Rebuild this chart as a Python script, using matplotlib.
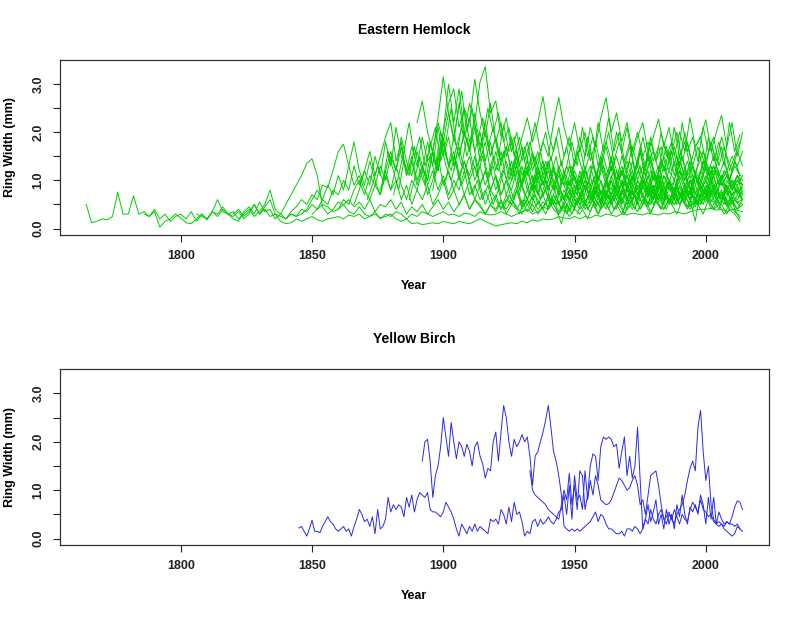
"""Tree-ring widths: Eastern Hemlock and Yellow Birch (R base-graphics look)."""

import matplotlib
matplotlib.use("Agg")
import matplotlib.pyplot as plt
import numpy as np

plt.rcParams["font.family"] = ["Liberation Sans", "DejaVu Sans"]

HEMLOCK_COLOR = "#00cd00"
BIRCH_COLOR = "#2a2ae6"

# ── Eastern Hemlock: one value every 2 years from each start year ────────────
hemlock_step = 2
hemlock_start = [1764, 1786, 1806, 1820, 1840, 1850, 1860, 1866, 1876, 1890, 1894,
                 1896, 1904, 1906, 1898, 1926, 1934, 1948, 1956, 1960, 1966, 1976,
                 1871, 1881, 1901, 1913, 1929, 1943, 1951, 1969, 1887]

eh01 = [0.5, 0.12, 0.15, 0.2, 0.18, 0.25, 0.75, 0.3, 0.3, 0.68,
        0.3, 0.35, 0.25, 0.4, 0.2, 0.3, 0.15, 0.25, 0.3, 0.2,
        0.35, 0.15, 0.3, 0.2, 0.35, 0.6, 0.35, 0.3, 0.25, 0.35,
        0.2, 0.3, 0.5, 0.3, 0.4, 0.25, 0.3, 0.15, 0.1, 0.12,
        0.2, 0.15, 0.2, 0.25, 0.18, 0.15, 0.2, 0.22, 0.25, 0.2,
        0.28, 0.25, 0.3, 0.2, 0.25, 0.3, 0.22, 0.25, 0.3, 0.2,
        0.15, 0.2, 0.1, 0.12, 0.08, 0.1, 0.12, 0.1, 0.15, 0.12,
        0.1, 0.15, 0.12, 0.1, 0.15, 0.2, 0.15, 0.1, 0.05, 0.08,
        0.1, 0.12, 0.1, 0.15, 0.12, 0.18, 0.15, 0.2, 0.18, 0.2,
        0.25, 0.22, 0.2, 0.25, 0.2, 0.25, 0.22, 0.28, 0.25, 0.3,
        0.28, 0.25, 0.3, 0.28, 0.32, 0.3, 0.28, 0.32, 0.3, 0.28,
        0.32, 0.3, 0.35, 0.33, 0.3, 0.35, 0.38, 0.4, 0.4, 0.42,
        0.38, 0.4, 0.35, 0.4, 0.38, 0.35]
eh02 = [0.3, 0.25, 0.35, 0.03, 0.15, 0.2, 0.3, 0.22, 0.12, 0.1,
        0.2, 0.3, 0.18, 0.35, 0.25, 0.4, 0.3, 0.2, 0.15, 0.35,
        0.45, 0.3, 0.55, 0.35, 0.4, 0.2, 0.3, 0.5, 0.7, 0.9,
        1.1, 1.35, 1.45, 1.1, 0.45, 0.3, 0.4, 0.55, 0.5, 0.6,
        0.45, 0.55, 0.4, 0.6, 0.35, 0.5, 0.45, 0.6, 0.4, 0.55,
        0.3, 0.45, 0.35, 0.5, 0.3, 0.45, 0.6, 0.4, 0.55, 0.35,
        0.5, 0.7, 0.4, 0.6, 0.45, 0.3, 0.5, 0.35, 0.55, 0.4,
        0.6, 0.45, 0.3, 0.5, 0.65, 0.4, 0.55, 0.45, 0.7, 0.5,
        0.35, 0.6, 0.45, 0.7, 0.5, 0.8, 0.6, 0.45, 0.7, 0.55,
        0.8, 0.6, 0.5, 0.75, 0.6, 0.9, 0.65, 0.8, 0.55, 0.7,
        0.9, 0.6, 0.75, 0.55, 0.8, 0.6, 0.9, 0.7, 0.85, 0.6,
        0.75, 0.5, 0.65, 0.55, 0.5]
eh03 = [0.3, 0.25, 0.2, 0.35, 0.3, 0.45, 0.3, 0.35, 0.2, 0.3,
        0.4, 0.25, 0.35, 0.5, 0.8, 0.4, 0.3, 0.2, 0.35, 0.45,
        0.6, 0.5, 0.7, 0.6, 0.9, 0.85, 1.2, 1.6, 1.75, 1.3,
        0.9, 1.1, 0.8, 0.6, 0.9, 0.7, 1.2, 0.8, 1.0, 0.6,
        0.9, 0.5, 0.8, 0.6, 0.9, 0.5, 0.7, 1.0, 0.6, 0.8,
        0.5, 0.7, 0.4, 0.6, 0.5, 0.3, 0.5, 0.4, 0.6, 0.3,
        0.5, 0.4, 0.6, 0.35, 0.5, 0.3, 0.45, 0.6, 0.4, 0.3,
        0.5, 0.35, 0.6, 0.4, 0.55, 0.7, 0.45, 0.6, 0.8, 0.5,
        0.7, 0.55, 0.9, 0.6, 0.75, 0.5, 0.8, 0.6, 1.0, 0.7,
        0.55, 0.8, 0.6, 0.9, 0.7, 1.1, 0.8, 0.6, 0.9, 0.7,
        1.0, 0.75, 0.6, 0.85, 0.7]
eh04 = [0.3, 0.4, 0.25, 0.35, 0.5, 0.3, 0.45, 0.6, 0.3, 0.25,
        0.2, 0.3, 0.25, 0.3, 0.4, 0.6, 0.8, 0.6, 0.9, 0.7,
        1.1, 0.8, 1.3, 1.8, 1.2, 0.9, 1.4, 1.0, 0.7, 1.1,
        0.8, 1.3, 0.9, 0.6, 1.0, 0.8, 1.2, 0.7, 1.0, 1.5,
        0.9, 1.2, 0.8, 1.1, 0.7, 1.0, 0.6, 0.9, 0.5, 0.8,
        0.6, 0.4, 0.7, 0.5, 0.8, 0.4, 0.6, 0.9, 0.5, 0.7,
        0.4, 0.6, 0.35, 0.55, 0.8, 0.5, 0.7, 0.4, 0.6, 0.9,
        0.55, 0.75, 0.5, 0.7, 1.0, 0.6, 0.8, 0.55, 0.9, 0.65,
        1.1, 0.7, 0.5, 0.85, 0.6, 0.9, 0.7, 1.0, 0.75, 0.55,
        0.9, 0.65, 0.8, 0.6, 0.9, 0.7, 0.8, 0.6]
eh05 = [0.2, 0.3, 0.25, 0.4, 0.35, 0.5, 0.4, 0.6, 0.5, 0.8,
        0.7, 1.0, 0.8, 1.3, 0.9, 1.2, 1.6, 1.1, 1.5, 1.9,
        2.2, 1.4, 1.8, 1.1, 1.5, 1.0, 1.3, 0.9, 1.2, 0.8,
        1.1, 0.7, 1.0, 0.8, 1.2, 0.7, 0.9, 0.6, 0.8, 0.5,
        0.7, 0.4, 0.6, 0.5, 0.8, 0.45, 0.6, 0.35, 0.55, 0.4,
        0.7, 0.5, 0.3, 0.45, 0.25, 0.4, 0.3, 0.5, 0.35, 0.6,
        0.4, 0.55, 0.3, 0.45, 0.6, 0.4, 0.5, 0.35, 0.6, 0.45,
        0.7, 0.5, 0.4, 0.6, 0.5, 0.75, 0.55, 0.4, 0.6, 0.5,
        0.8, 0.6, 0.5, 0.7, 0.45, 0.6, 0.4, 0.5]
eh06 = [0.3, 0.4, 0.5, 0.45, 0.35, 0.4, 0.5, 0.35, 0.3, 0.45,
        0.3, 0.25, 0.35, 0.2, 0.3, 0.25, 0.35, 0.3, 0.2, 0.3,
        0.25, 0.35, 0.3, 0.25, 0.3, 0.35, 0.28, 0.3, 0.25, 0.32,
        0.3, 0.25, 0.35, 0.3, 0.28, 0.3, 0.35, 0.3, 0.25, 0.3,
        0.35, 0.4, 0.3, 0.35, 0.45, 0.4, 0.55, 0.5, 0.7, 0.6,
        0.8, 0.6, 0.9, 0.7, 0.5, 0.8, 0.6, 1.0, 0.7, 0.9,
        0.6, 0.8, 0.5, 0.7, 0.9, 0.6, 0.8, 0.55, 0.7, 0.5,
        0.65, 0.8, 0.6, 0.45, 0.7, 0.55, 0.8, 0.6, 0.7, 0.5,
        0.65, 0.55, 0.6]
eh07 = [0.4, 0.6, 0.5, 0.8, 1.0, 0.7, 1.1, 0.9, 1.3, 1.0,
        1.5, 1.2, 1.7, 1.1, 1.4, 0.9, 1.3, 1.0, 1.6, 1.2,
        1.9, 1.3, 1.6, 1.0, 1.4, 1.1, 1.5, 0.9, 1.2, 0.8,
        1.1, 0.7, 1.0, 0.6, 0.9, 0.5, 0.8, 0.6, 1.0, 0.7,
        0.9, 0.5, 0.8, 0.6, 0.4, 0.7, 0.5, 0.9, 0.6, 0.8,
        0.5, 0.7, 1.0, 0.6, 0.8, 0.55, 0.9, 0.7, 1.1, 0.8,
        0.6, 0.9, 0.7, 1.0, 0.65, 0.85, 0.6, 1.0, 0.75, 0.9,
        0.7, 1.1, 0.8, 0.95, 0.7, 0.9, 0.75, 0.85]
eh08 = [0.5, 0.8, 1.2, 0.9, 1.5, 1.1, 1.8, 1.3, 2.1, 1.5,
        1.2, 1.7, 1.3, 1.9, 1.4, 1.6, 1.2, 1.8, 1.3, 1.5,
        1.1, 1.4, 1.0, 1.3, 0.9, 1.2, 0.8, 1.1, 0.7, 1.0,
        0.8, 1.2, 0.9, 0.6, 1.0, 0.7, 1.1, 0.8, 1.3, 0.9,
        0.6, 1.0, 0.7, 1.2, 0.8, 1.1, 0.7, 1.3, 0.9, 1.5,
        1.0, 1.2, 0.8, 1.4, 1.0, 1.3, 0.9, 1.2, 0.8, 1.1,
        0.9, 1.4, 1.0, 1.2, 0.8, 1.1, 0.9, 1.3, 1.0, 1.2,
        0.9, 1.1, 0.8, 1.0, 0.9]
eh09 = [0.8, 1.2, 1.6, 1.2, 1.9, 1.4, 1.1, 1.6, 1.2, 1.8,
        1.3, 2.1, 1.5, 1.9, 1.3, 1.7, 1.2, 1.5, 1.0, 1.3,
        0.9, 1.2, 0.8, 1.1, 0.7, 1.0, 1.3, 0.9, 1.2, 1.6,
        1.1, 1.4, 1.0, 1.3, 0.8, 1.2, 0.9, 1.1, 0.7, 1.0,
        1.3, 0.9, 1.5, 1.1, 1.4, 1.0, 1.3, 0.9, 1.2, 0.8,
        1.1, 1.5, 1.0, 1.3, 0.9, 1.2, 1.0, 1.4, 1.1, 0.8,
        1.2, 1.0, 1.4, 1.1, 1.3, 1.0, 1.2, 0.9, 1.1, 1.0]
eh10 = [2.2, 2.65, 2.0, 1.6, 2.2, 1.8, 2.4, 1.9, 1.5, 2.0,
        1.6, 2.1, 1.4, 1.8, 1.2, 1.6, 1.1, 1.4, 1.0, 1.3,
        0.9, 1.2, 0.8, 1.1, 0.7, 1.0, 0.8, 1.2, 0.9, 0.6,
        0.9, 0.7, 1.0, 0.6, 0.8, 0.5, 0.9, 0.7, 1.0, 0.6,
        0.8, 0.55, 0.9, 0.7, 0.5, 0.8, 0.6, 0.9, 0.55, 0.7,
        0.5, 0.8, 0.6, 0.9, 0.65, 0.8, 0.55, 0.75, 0.6, 0.8,
        0.5, 0.7, 0.6]
eh11 = [1.0, 1.6, 2.3, 3.15, 2.4, 1.8, 2.6, 1.9, 2.3, 1.6,
        2.0, 1.4, 1.8, 1.2, 1.6, 1.0, 1.4, 0.9, 1.3, 0.8,
        1.1, 0.7, 1.0, 0.6, 0.9, 0.5, 0.8, 0.6, 0.4, 0.7,
        0.5, 0.8, 0.45, 0.6, 0.4, 0.7, 0.5, 0.3, 0.6, 0.4,
        0.7, 0.5, 0.8, 0.5, 0.7, 0.4, 0.6, 0.8, 0.5, 0.7,
        0.45, 0.65, 0.5, 0.7, 0.4, 0.6, 0.5, 0.3, 0.55, 0.4,
        0.6]
eh12 = [0.8, 1.4, 2.0, 3.0, 2.2, 2.9, 2.0, 1.6, 2.4, 1.7,
        2.2, 1.5, 1.9, 1.3, 1.7, 1.1, 1.5, 0.9, 1.3, 0.8,
        1.2, 0.9, 1.4, 1.0, 0.7, 1.1, 0.8, 1.2, 0.9, 1.3,
        0.8, 1.1, 0.7, 1.0, 0.6, 0.9, 0.7, 1.1, 0.8, 0.6,
        1.0, 0.7, 0.9, 0.6, 1.1, 0.8, 1.0, 0.7, 0.9, 0.6,
        1.1, 0.8, 1.0, 0.7, 0.9, 0.6, 0.8, 0.7, 0.9, 0.6]
eh13 = [1.2, 1.8, 2.5, 2.2, 3.1, 2.4, 1.9, 2.6, 1.8, 2.2,
        1.5, 1.9, 1.3, 1.7, 1.1, 1.5, 1.0, 1.3, 0.8, 1.2,
        0.9, 0.6, 1.0, 0.7, 1.1, 0.8, 0.5, 0.9, 0.6, 1.0,
        0.7, 0.9, 0.5, 0.8, 0.6, 1.0, 0.7, 0.5, 0.9, 0.6,
        0.8, 0.5, 0.7, 1.0, 0.6, 0.8, 0.5, 0.9, 0.7, 1.0,
        0.6, 0.8, 0.5, 0.7, 0.6, 0.8]
eh14 = [1.5, 2.0, 2.6, 2.2, 3.05, 3.36, 2.4, 2.65, 1.9, 2.3,
        1.6, 2.0, 1.4, 1.8, 1.2, 1.6, 1.1, 1.4, 0.9, 1.3,
        1.0, 0.7, 1.1, 0.8, 1.2, 0.9, 0.6, 1.0, 0.7, 1.1,
        0.8, 1.2, 0.9, 0.7, 1.0, 0.8, 1.1, 0.7, 0.9, 0.6,
        1.0, 0.8, 1.2, 0.9, 0.7, 1.1, 0.8, 1.0, 0.7, 0.9,
        0.6, 1.0, 0.8, 1.1, 0.9]
eh15 = [1.2, 2.0, 2.6, 2.9, 2.1, 2.5, 1.8, 2.2, 1.6, 2.0,
        1.5, 1.9, 1.4, 1.7, 1.2, 1.6, 1.1, 1.4, 1.0, 1.3,
        0.9, 1.2, 0.8, 1.1, 0.9, 1.3, 1.0, 0.8, 1.2, 0.9,
        1.1, 0.7, 1.0, 0.8, 1.2, 0.9, 1.1, 0.8, 1.2, 1.0,
        0.7, 1.1, 0.9, 1.3, 1.0, 0.8, 1.2, 1.0, 1.4, 1.1,
        0.9, 1.3, 1.0, 1.2, 0.9, 1.1, 0.8, 1.0, 0.9]
eh16 = [1.0, 1.5, 1.9, 2.3, 1.8, 2.2, 2.74, 2.0, 1.6, 2.1,
        1.5, 1.9, 1.3, 1.7, 1.2, 1.6, 1.1, 1.4, 1.0, 1.3,
        0.9, 1.2, 0.8, 1.1, 0.7, 1.0, 0.8, 1.2, 0.9, 0.6,
        1.0, 0.7, 1.1, 0.8, 1.0, 0.6, 0.9, 0.7, 1.0, 0.8,
        0.6, 0.9, 0.7, 0.8, 0.6]
eh17 = [0.8, 1.3, 1.8, 1.5, 2.2, 2.72, 2.1, 1.7, 2.2, 1.6,
        2.0, 1.4, 1.8, 1.3, 1.7, 1.2, 1.5, 1.1, 1.4, 1.0,
        1.3, 0.9, 1.2, 0.8, 1.1, 0.7, 1.0, 0.8, 1.2, 0.9,
        1.1, 0.7, 1.0, 0.8, 1.2, 0.9, 1.1, 0.8, 1.0, 0.7,
        0.9]
eh18 = [0.9, 1.4, 1.9, 1.5, 2.1, 1.7, 2.3, 2.72, 2.0, 2.4,
        1.8, 2.2, 1.6, 2.0, 1.5, 1.8, 1.4, 1.7, 1.2, 1.6,
        1.1, 1.5, 1.0, 1.3, 0.9, 1.2, 1.0, 1.3, 0.9, 1.1,
        0.8, 1.0, 0.9, 1.1]
eh19 = [0.6, 1.0, 1.4, 1.8, 1.4, 2.0, 1.6, 2.1, 1.5, 1.9,
        2.2, 1.6, 1.9, 2.27, 1.7, 2.1, 1.5, 2.0, 1.6, 2.3,
        1.7, 1.9, 1.4, 1.8, 1.3, 1.7, 1.2, 1.5, 1.3, 1.6]
eh20 = [0.5, 0.9, 1.3, 1.0, 1.5, 1.2, 1.7, 1.3, 1.9, 1.4,
        1.6, 1.2, 1.8, 1.4, 2.1, 1.5, 1.8, 1.3, 1.7, 1.9,
        2.26, 1.6, 2.0, 2.35, 1.7, 2.2, 1.5, 2.0]
eh21 = [0.4, 0.8, 1.2, 0.9, 1.4, 1.1, 1.6, 1.2, 1.0, 1.5,
        1.2, 1.7, 1.3, 2.0, 1.5, 1.1, 1.6, 1.3, 1.8, 1.4,
        1.9, 1.5, 1.2, 1.6, 1.3]
eh22 = [0.5, 0.9, 0.7, 1.1, 0.8, 1.0, 0.7, 1.2, 0.9, 0.6,
        0.15, 0.8, 1.1, 0.9, 1.3, 1.0, 1.2, 0.8, 1.1, 0.7]
eh23 = [0.6, 0.9, 1.3, 1.0, 1.6, 1.2, 0.8, 1.4, 1.1, 1.7,
        1.2, 0.9, 1.5, 1.1, 1.8, 1.3, 1.0, 1.4, 0.9, 1.2,
        0.7, 1.0, 0.6, 0.9, 0.5, 0.8, 0.4, 0.7, 0.5, 0.3,
        0.6, 0.4, 0.7, 0.5, 0.3, 0.6, 0.4, 0.1, 0.5, 0.3,
        0.6, 0.4, 0.2, 0.5, 0.3, 0.6, 0.4, 0.7, 0.5, 0.3,
        0.6, 0.4, 0.8, 0.5, 0.3, 0.6, 0.4, 0.7, 0.5, 0.8,
        0.6, 0.4, 0.7, 0.5, 0.9, 0.6, 0.4, 0.7, 0.5, 0.8,
        0.4, 0.2]
eh24 = [0.7, 1.1, 1.6, 2.2, 1.5, 1.9, 1.3, 1.7, 2.1, 1.4,
        1.8, 2.5, 1.7, 2.1, 1.5, 1.9, 1.3, 1.6, 1.1, 1.5,
        1.2, 1.6, 1.0, 1.4, 0.8, 1.2, 0.7, 1.1, 0.6, 1.0,
        0.5, 0.9, 0.6, 0.3, 0.7, 0.5, 0.8, 0.4, 0.6, 0.3,
        0.5, 0.7, 0.4, 0.6, 0.3, 0.5, 0.7, 0.4, 0.6, 0.35,
        0.55, 0.4, 0.7, 0.5, 0.3, 0.6, 0.45, 0.7, 0.5, 0.3,
        0.6, 0.4, 0.5, 0.3, 0.5, 0.35, 0.25]
eh25 = [1.0, 1.6, 2.2, 2.85, 2.0, 2.5, 1.8, 2.3, 1.7, 2.1,
        1.5, 2.15, 1.6, 1.9, 1.3, 1.7, 1.2, 1.5, 1.0, 1.4,
        1.1, 1.5, 0.9, 1.3, 1.0, 0.7, 1.2, 0.9, 1.4, 1.0,
        1.3, 0.9, 1.2, 0.8, 1.1, 1.4, 1.0, 1.3, 0.9, 1.2,
        1.0, 1.4, 1.1, 0.8, 1.2, 1.5, 1.1, 1.3, 1.0, 1.4,
        1.1, 1.3, 0.9, 1.2, 1.0, 1.4, 1.1]
eh26 = [1.2, 1.9, 2.5, 2.0, 2.4, 1.8, 2.1, 1.5, 1.9, 1.4,
        1.8, 1.3, 1.6, 1.1, 1.5, 1.0, 1.4, 0.9, 1.3, 0.8,
        1.2, 0.9, 1.3, 1.0, 1.5, 1.1, 1.4, 1.0, 1.3, 0.9,
        1.2, 1.6, 1.1, 1.4, 1.0, 1.3, 1.7, 1.2, 1.5, 1.1,
        1.4, 1.0, 1.3, 1.6, 1.2, 1.5, 1.1, 1.4, 1.0, 1.3,
        1.1]
eh27 = [0.7, 1.2, 1.7, 2.2, 1.6, 2.0, 1.4, 1.9, 1.3, 1.7,
        1.1, 1.6, 1.2, 1.9, 1.4, 2.2, 1.6, 2.0, 1.4, 1.8,
        1.3, 1.7, 1.2, 1.6, 1.1, 1.5, 1.0, 1.4, 1.2, 1.6,
        1.1, 1.5, 1.0, 1.3, 0.9, 1.4, 1.0, 1.3, 0.9, 1.2,
        1.0, 1.4, 1.1]
eh28 = [0.5, 0.9, 1.3, 1.8, 1.3, 2.1, 1.5, 1.9, 1.3, 1.7,
        2.3, 1.6, 2.0, 1.4, 1.8, 1.2, 1.7, 1.3, 1.9, 1.4,
        1.7, 1.2, 1.6, 2.0, 1.4, 1.8, 1.3, 1.7, 1.2, 1.9,
        1.4, 1.8, 1.3, 2.2, 1.6, 1.95]
eh29 = [0.3, 0.6, 0.9, 0.6, 1.1, 0.8, 0.5, 0.9, 0.6, 1.0,
        0.7, 0.4, 0.8, 0.5, 0.9, 0.6, 1.1, 0.7, 0.5, 0.9,
        0.6, 1.0, 0.7, 0.5, 0.8, 0.6, 0.9, 0.5, 0.7, 0.4,
        0.3, 0.15]
eh30 = [0.4, 0.8, 1.2, 1.6, 1.2, 1.8, 1.4, 2.0, 1.5, 1.8,
        1.3, 2.2, 1.6, 1.9, 1.4, 2.1, 1.6, 1.9, 1.3, 1.7,
        1.2, 1.5, 1.8]
eh31 = [0.6, 1.0, 1.5, 1.1, 1.8, 1.3, 2.0, 1.5, 1.2, 1.7,
        1.3, 1.9, 1.4, 1.1, 1.5, 1.0, 1.3, 0.8, 1.2, 0.9,
        0.6, 1.0, 0.7, 0.5, 0.9, 0.6, 0.8, 0.5, 0.7, 0.4,
        0.6, 0.8, 0.5, 0.7, 0.4, 0.6, 0.9, 0.5, 0.7, 0.4,
        0.6, 0.8, 0.5, 0.7, 0.4, 0.6, 0.5, 0.8, 0.6, 0.4,
        0.7, 0.5, 0.8, 0.6, 0.4, 0.7, 0.5, 0.9, 0.6, 0.4,
        0.7, 0.5, 0.6, 0.45]

hemlock_series = [eh01, eh02, eh03, eh04, eh05, eh06, eh07, eh08, eh09, eh10, eh11,
                  eh12, eh13, eh14, eh15, eh16, eh17, eh18, eh19, eh20, eh21, eh22,
                  eh23, eh24, eh25, eh26, eh27, eh28, eh29, eh30, eh31]

# ── Yellow Birch: yearly values from each start year ─────────────────────────
birch_start = [1845, 1892, 1933]

yb1 = [0.22, 0.25, 0.15, 0.05, 0.2, 0.38,
       0.15, 0.15, 0.12, 0.25, 0.35, 0.45, 0.35, 0.3, 0.2, 0.15,
       0.2, 0.25, 0.15, 0.2, 0.05, 0.25, 0.4, 0.6, 0.5, 0.35,
       0.4, 0.25, 0.45, 0.1, 0.6, 0.2, 0.25, 0.4, 0.85, 0.55,
       0.7, 0.6, 0.7, 0.65, 0.45, 0.85, 0.65, 0.9, 0.55, 0.8,
       0.95, 0.9, 0.85, 0.95, 0.6, 0.55, 0.55, 0.5, 0.45, 0.55,
       0.75, 0.65, 0.55, 0.4, 0.2, 0.05, 0.3, 0.2, 0.1, 0.25,
       0.15, 0.3, 0.15, 0.25, 0.2, 0.15, 0.1, 0.4, 0.35, 0.4,
       0.3, 0.6, 0.5, 0.3, 0.65, 0.35, 0.75, 0.5, 0.55, 0.35,
       0.05, 0.15, 0.1, 0.35, 0.4, 0.25, 0.4, 0.3, 0.35, 0.45,
       0.35, 0.3, 0.4, 0.55,
       0.6, 0.9, 0.5, 1.1, 0.4, 1.3, 0.8, 0.9, 0.6, 1.4,
       0.8, 1.2, 0.9, 1.3, 1.1, 0.8, 0.75, 0.7, 0.72, 0.8,
       0.95, 1.1, 1.25, 1.2, 1.1, 1.0, 1.05, 1.2, 1.3, 1.1,
       0.7, 0.8, 0.5, 0.9, 1.3, 1.35, 1.4, 1.1, 0.7, 0.4,
       0.3, 0.5, 0.4, 0.3, 0.5, 0.6, 0.7, 0.9, 1.2, 1.45,
       1.6, 1.4, 2.3, 2.65, 1.8, 1.2, 1.5, 0.7, 0.4, 0.3,
       0.35, 0.3, 0.25, 0.35, 0.3, 0.45, 0.65, 0.78, 0.75, 0.6]
yb2 = [1.6, 2.0, 2.05, 1.6, 0.85, 1.3, 1.5, 1.9,
       2.5, 2.1, 1.7, 2.4, 2.0, 1.65, 2.0, 1.9, 1.7, 1.95,
       1.8, 1.5, 1.9, 2.0, 1.7, 1.55, 1.25, 1.45, 1.4, 2.0,
       2.2, 1.6, 2.2, 2.75, 2.5, 2.0, 1.7, 2.05, 1.9, 2.0,
       2.15, 2.0, 2.1, 1.7, 1.1, 1.7, 1.8, 2.0, 2.2, 2.45,
       2.75, 2.3, 1.8, 1.6, 1.3, 0.9, 0.25, 0.2, 0.15, 0.2,
       0.15, 0.2, 0.15, 0.2, 0.25, 0.3, 0.35, 0.45, 0.55, 0.35,
       0.5, 0.45, 0.3, 0.2, 0.2, 0.15, 0.1, 0.1, 0.15, 0.05,
       0.2, 0.2, 0.15, 0.25, 0.2, 0.1, 0.2, 0.4, 0.3, 0.6,
       0.4, 0.3, 0.5, 0.6, 0.4, 0.45, 0.55, 0.4, 0.6, 0.45,
       0.3, 0.5, 0.4, 0.35, 0.6, 0.75, 0.65, 0.55, 0.8, 0.6,
       0.55, 0.45, 0.5, 0.35, 0.3, 0.25, 0.3, 0.2, 0.15, 0.1,
       0.05, 0.1, 0.25, 0.2, 0.15]
yb3 = [1.4, 1.0, 0.9, 0.85, 0.8, 0.75, 0.7,
       0.6, 0.55, 0.5, 0.45, 0.4, 0.7, 1.0, 0.8, 1.35, 0.7,
       1.1, 0.6, 1.4, 1.3, 0.6, 0.9, 1.5, 1.75, 1.7, 1.2,
       1.9, 2.1, 2.05, 2.1, 2.05, 1.9, 1.95, 1.45, 1.8, 2.1,
       1.3, 1.7, 1.25, 1.5, 2.3, 1.2, 0.2, 0.4, 0.7, 0.35,
       0.55, 0.8, 0.3, 0.5, 0.2, 0.6, 0.3, 0.5, 0.2, 0.7,
       0.45, 0.9, 0.5, 0.3, 0.65, 0.55, 0.7, 0.5, 0.9, 0.7,
       0.3, 0.85, 0.4, 0.85, 0.3, 0.55, 0.4, 0.3, 0.35, 0.3,
       0.3, 0.25, 0.3, 0.2]

birch_series = [yb1, yb2, yb3]

# ── Axis setup (R defaults: 4% padding, box, labels every 1.0) ───────────────
x_ticks = [1800, 1850, 1900, 1950, 2000]
y_ticks = [0.0, 0.5, 1.0, 1.5, 2.0, 2.5, 3.0]
y_tick_labels = ["0.0", "", "1.0", "", "2.0", "", "3.0"]
x_range = (1754, 2024)
y_range = (-0.134, 3.50)


def style_panel(ax, title):
    ax.set_xlim(*x_range)
    ax.set_ylim(*y_range)
    ax.set_xticks(x_ticks)
    ax.set_xticklabels([str(t) for t in x_ticks], fontsize=9, fontweight="bold")
    ax.set_yticks(y_ticks)
    ax.set_yticklabels(y_tick_labels, fontsize=9, fontweight="bold",
                       rotation=90, va="center")
    ax.tick_params(direction="out", length=5, width=0.8, pad=6, colors="#222222")
    for sp in ax.spines.values():
        sp.set_linewidth(0.9)
        sp.set_color("#333333")
    ax.text(0.5, 1.172, title, transform=ax.transAxes, ha="center", va="center",
            fontsize=10, fontweight="bold")
    ax.text(0.5, -0.29, "Year", transform=ax.transAxes, ha="center", va="center",
            fontsize=9, fontweight="bold")
    ax.text(-0.0705, 0.5, "Ring Width (mm)", transform=ax.transAxes, rotation=90,
            ha="center", va="center", fontsize=9, fontweight="bold")


fig = plt.figure(figsize=(8, 6.19), dpi=100)
fig.patch.set_facecolor("white")

ax_top = fig.add_axes([0.075, 0.6204, 0.886, 0.2827])
ax_bot = fig.add_axes([0.075, 0.1195, 0.886, 0.2840])

for start, vals in zip(hemlock_start, hemlock_series):
    years = start + hemlock_step * np.arange(len(vals))
    ax_top.plot(years, vals, color=HEMLOCK_COLOR, lw=0.7)

for start, vals in zip(birch_start, birch_series):
    years = start + np.arange(len(vals))
    ax_bot.plot(years, vals, color=BIRCH_COLOR, lw=0.7)

style_panel(ax_top, "Eastern Hemlock")
style_panel(ax_bot, "Yellow Birch")

fig.savefig("out.png", dpi=100)
plt.close(fig)
